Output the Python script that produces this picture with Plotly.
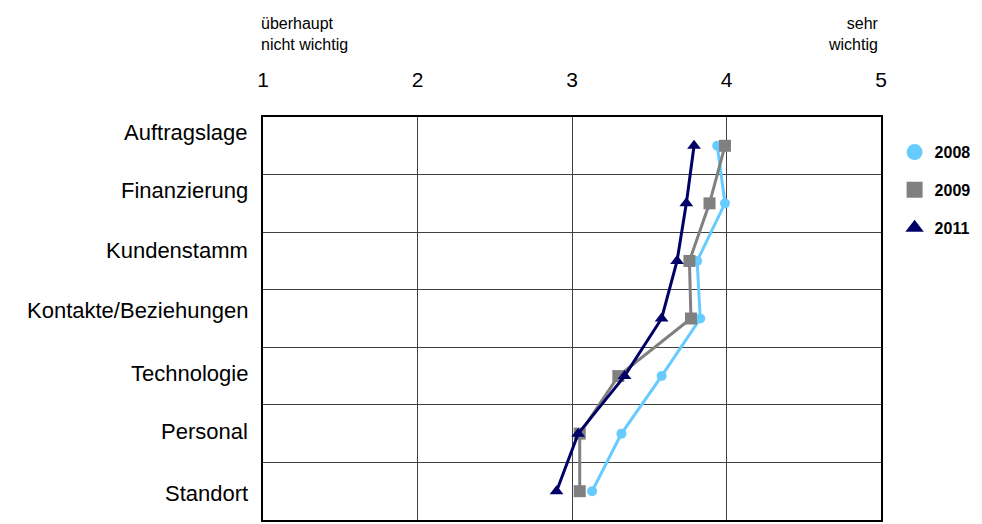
import plotly.graph_objects as go

categories = ["Auftragslage", "Finanzierung", "Kundenstamm", "Kontakte/Beziehungen",
              "Technologie", "Personal", "Standort"]
v2008 = [3.94, 3.99, 3.81, 3.83, 3.58, 3.32, 3.13]
v2009 = [3.99, 3.89, 3.76, 3.77, 3.30, 3.05, 3.05]
v2011 = [3.79, 3.74, 3.68, 3.58, 3.34, 3.04, 2.90]
x_ticks = [1, 2, 3, 4, 5]
label_shift = [13, 13, 10, 8, 3, 2, -2]

ypos = list(range(len(categories)))
FONT = "Liberation Sans, Arial, sans-serif"

series = [
    ("2008", v2008, "#66CCFF", "circle", 10),
    ("2009", v2009, "#808080", "square", 12),
    ("2011", v2011, "#000066", "triangle-up", 12),
]

fig = go.Figure()
for name, vals, col, sym, sz in series:
    fig.add_trace(go.Scatter(
        x=vals, y=ypos, mode="lines+markers", name=name, showlegend=False,
        line=dict(color=col, width=3),
        marker=dict(symbol=sym, size=sz, color=col),
        cliponaxis=False,
    ))
for name, vals, col, sym, sz in series:
    fig.add_trace(go.Scatter(
        x=[None], y=[None], mode="markers", name=name, legendgroup=name,
        marker=dict(symbol=sym, size=16, color=col),
    ))

for i, c in enumerate(categories):
    fig.add_annotation(x=0, xref="paper", xanchor="right", xshift=-13,
                       y=ypos[i], yref="y", yshift=label_shift[i], yanchor="middle",
                       text=c, showarrow=False,
                       font=dict(family=FONT, size=22, color="#000"))

fig.add_annotation(x=0, xref="paper", xanchor="left", xshift=-4, y=1, yref="paper",
                   yshift=104, yanchor="top", align="left",
                   text="überhaupt<br>nicht wichtig", showarrow=False,
                   font=dict(family=FONT, size=16, color="#000"))
fig.add_annotation(x=1, xref="paper", xanchor="right", xshift=0, y=1, yref="paper",
                   yshift=104, yanchor="top", align="right",
                   text="sehr<br>wichtig", showarrow=False,
                   font=dict(family=FONT, size=16, color="#000"))

fig.update_layout(
    width=974, height=516,
    margin=dict(l=255, r=101, t=109, b=4, autoexpand=False),
    paper_bgcolor="white", plot_bgcolor="white",
    font=dict(family=FONT, color="#000"),
    xaxis=dict(range=[1, 5], side="top", tickvals=x_ticks, ticks="",
               tickfont=dict(size=21, family=FONT, color="#000"),
               showgrid=True, gridcolor="#404040", gridwidth=1,
               zeroline=False, showline=True, linecolor="#000", linewidth=1.5,
               mirror=True, ticklabelstandoff=20),
    yaxis=dict(range=[6.5, -0.5], tickvals=[i - 0.5 for i in range(8)],
               showticklabels=False, ticks="",
               showgrid=True, gridcolor="#404040", gridwidth=1,
               zeroline=False, showline=True, linecolor="#000", linewidth=1.5,
               mirror=True),
    legend=dict(x=1.022, y=0.955, xanchor="left", yanchor="top",
                font=dict(family=FONT, size=16, color="#000", weight="bold"),
                tracegroupgap=14, itemwidth=30, bgcolor="rgba(0,0,0,0)"),
)

fig.write_html("out.html")
